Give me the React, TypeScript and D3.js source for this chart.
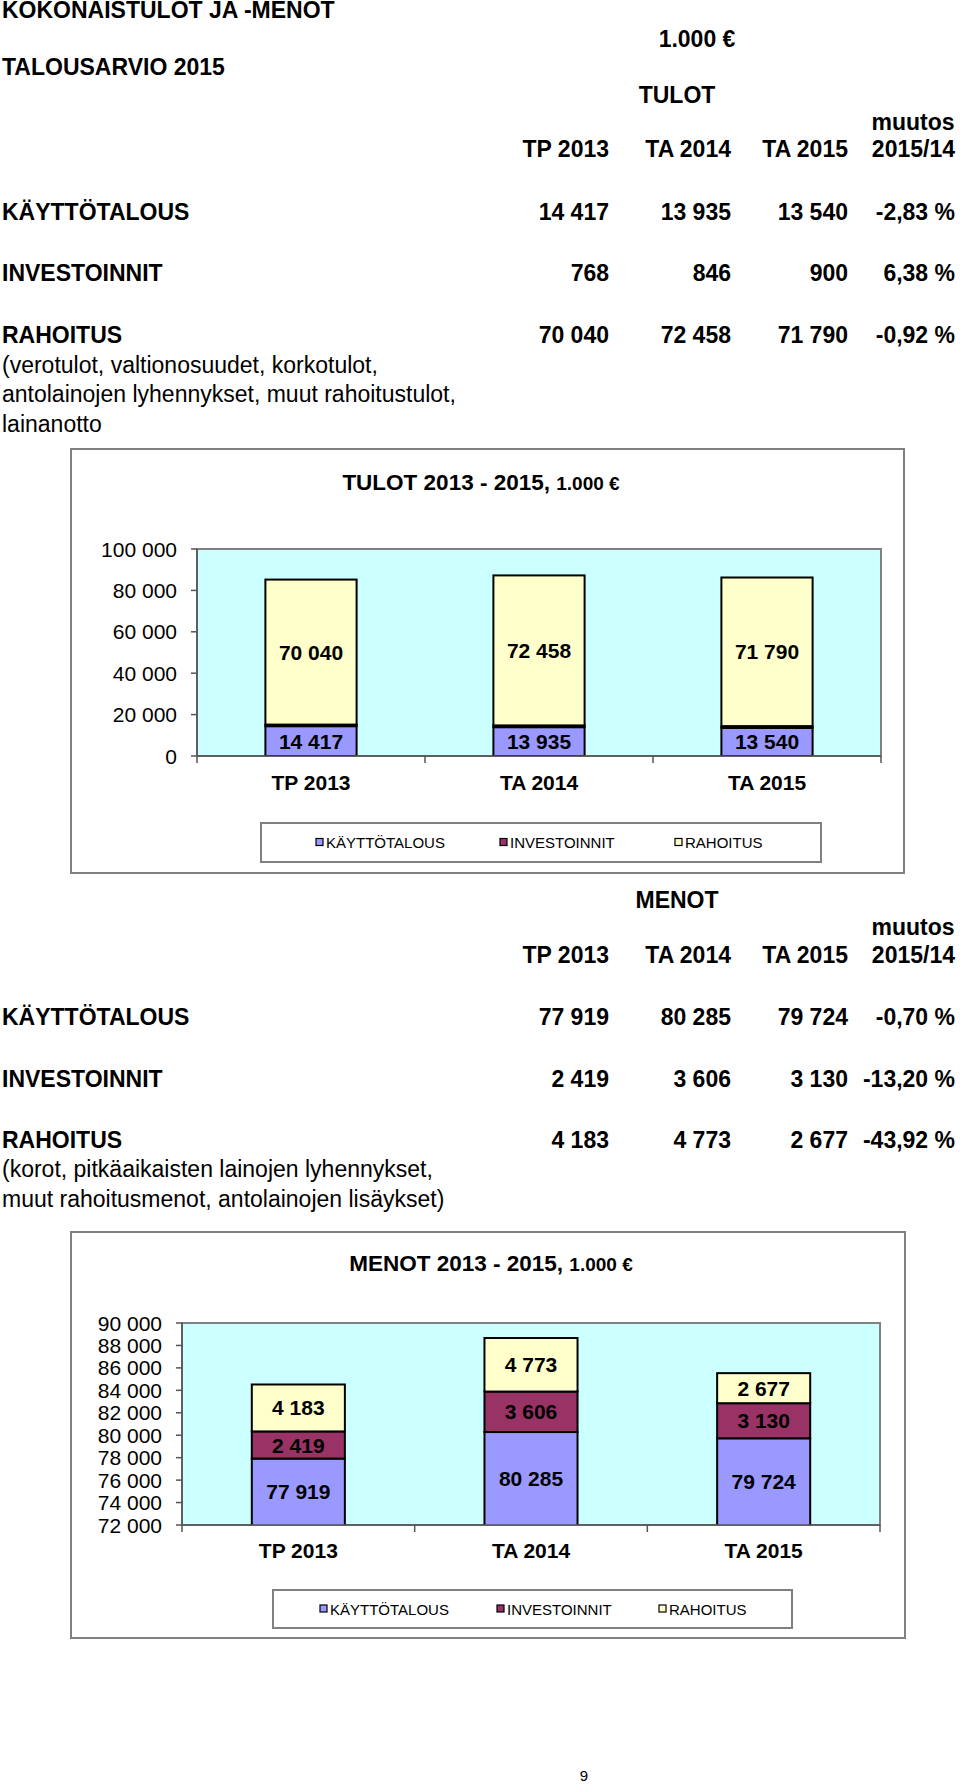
import React from "react";
import * as d3 from "d3";

const categories = ["TP 2013", "TA 2014", "TA 2015"];
const seriesNames = ["KÄYTTÖTALOUS", "INVESTOINNIT", "RAHOITUS"];
const seriesColors = ["#9999FF", "#993366", "#FFFFCC"];

const tuloKaytto = [14417, 13935, 13540];
const tuloInvest = [768, 846, 900];
const tuloRahoitus = [70040, 72458, 71790];
const tuloMuutos = ["-2,83 %", "6,38 %", "-0,92 %"];

const menoKaytto = [77919, 80285, 79724];
const menoInvest = [2419, 3606, 3130];
const menoRahoitus = [4183, 4773, 2677];
const menoMuutos = ["-0,70 %", "-13,20 %", "-43,92 %"];

const tuloTicks = [0, 20000, 40000, 60000, 80000, 100000];
const menoTicks = [72000, 74000, 76000, 78000, 80000, 82000, 84000, 86000, 88000, 90000];

const tuloDesc = [
  "(verotulot, valtionosuudet, korkotulot,",
  "antolainojen lyhennykset, muut rahoitustulot,",
  "lainanotto",
];
const menoDesc = [
  "(korot, pitkäaikaisten lainojen lyhennykset,",
  "muut rahoitusmenot, antolainojen lisäykset)",
];

const FONT = "'Liberation Sans', Arial, Helvetica, sans-serif";
const fi = d3.formatLocale({ decimal: ",", thousands: " ", grouping: [3], currency: ["", " €"] });
const fmt = fi.format(",d");

type TableProps = {
  heading: string;
  y: { heading: number; muutos: number; header: number; rows: number[]; desc: number[] };
  rows: number[][];
  muutos: string[];
  desc: string[];
};

const colRight = [609, 731, 848, 955];

function Table({ heading, y, rows, muutos, desc }: TableProps) {
  return (
    <g fontFamily={FONT} fontSize={23} fill="#000">
      <text x={677} y={y.heading} textAnchor="middle" fontWeight="bold">{heading}</text>
      <text x={913} y={y.muutos} textAnchor="middle" fontWeight="bold">muutos</text>
      {categories.map((c, i) => (
        <text key={c} x={colRight[i]} y={y.header} textAnchor="end" fontWeight="bold">{c}</text>
      ))}
      <text x={colRight[3]} y={y.header} textAnchor="end" fontWeight="bold">2015/14</text>
      {seriesNames.map((s, r) => (
        <g key={s} fontWeight="bold">
          <text x={2} y={y.rows[r]}>{s}</text>
          {rows[r].map((v, i) => (
            <text key={i} x={colRight[i]} y={y.rows[r]} textAnchor="end">{fmt(v)}</text>
          ))}
          <text x={colRight[3]} y={y.rows[r]} textAnchor="end">{muutos[r]}</text>
        </g>
      ))}
      {desc.map((d, i) => (
        <text key={i} x={2} y={y.desc[i]}>{d}</text>
      ))}
    </g>
  );
}

type ChartProps = {
  id: string;
  box: [number, number, number, number];
  plot: [number, number, number, number];
  title: string;
  titleY: number;
  titleX: number;
  domain: [number, number];
  ticks: number[];
  series: number[][];
  labelSeries: boolean[];
  catY: number;
  legendBox: [number, number, number, number];
  legendX: number[];
};

function Chart(p: ChartProps) {
  const [px0, py0, px1, py1] = p.plot;
  const x = d3.scaleBand<string>().domain(categories).range([px0, px1]);
  const y = d3.scaleLinear().domain(p.domain).range([py1, py0]);
  const stack = d3.stack<number>().keys(["0", "1", "2"]).value((i, k) => p.series[+k][i]);
  const stacked = stack([0, 1, 2]);
  const bw = x.bandwidth() * 0.4;
  const bandEdges = [px0, ...categories.map((c) => (x(c) as number) + x.bandwidth())];
  const [bx0, by0, bx1, by1] = p.box;
  const [lx0, ly0, lx1, ly1] = p.legendBox;
  const legendMid = (ly0 + ly1) / 2;
  return (
    <g fontFamily={FONT}>
      <rect x={bx0} y={by0} width={bx1 - bx0} height={by1 - by0} fill="#fff" stroke="#808080" strokeWidth={2} />
      <text x={p.titleX} y={p.titleY} textAnchor="middle" fontWeight="bold" fontSize={22.5}>
        {p.title}
        <tspan fontSize={19}>1.000 €</tspan>
      </text>
      <defs>
        <clipPath id={p.id}>
          <rect x={px0} y={py0} width={px1 - px0} height={py1 - py0} />
        </clipPath>
      </defs>
      <rect x={px0} y={py0} width={px1 - px0} height={py1 - py0} fill="#CCFFFF" stroke="#808080" strokeWidth={2} />
      <g clipPath={`url(#${p.id})`}>
        {stacked.map((layer, si) =>
          layer.map((d, ci) => {
            const cx = (x(categories[ci]) as number) + (x.bandwidth() - bw) / 2;
            return (
              <rect
                key={`${si}-${ci}`}
                x={cx}
                y={y(d[1])}
                width={bw}
                height={y(d[0]) - y(d[1])}
                fill={seriesColors[si]}
                stroke="#000"
                strokeWidth={2}
              />
            );
          })
        )}
      </g>
      {stacked.map((layer, si) =>
        p.labelSeries[si]
          ? layer.map((d, ci) => {
              const lo = Math.max(d[0], p.domain[0]);
              const mid = (lo + d[1]) / 2;
              const cx = (x(categories[ci]) as number) + x.bandwidth() / 2;
              return (
                <text key={`l${si}-${ci}`} x={cx} y={y(mid) + 7.5} textAnchor="middle" fontWeight="bold" fontSize={21}>
                  {fmt(p.series[si][ci])}
                </text>
              );
            })
          : null
      )}
      <line x1={px0} x2={px0} y1={py0} y2={py1} stroke="#555" strokeWidth={1.5} />
      <line x1={px0} x2={px1} y1={py1} y2={py1} stroke="#555" strokeWidth={1.5} />
      {p.ticks.map((t) => (
        <g key={t}>
          <line x1={px0 - 6} x2={px0} y1={y(t)} y2={y(t)} stroke="#555" strokeWidth={1.5} />
          <text x={px0 - 20} y={y(t) + 7.5} textAnchor="end" fontSize={21}>{fmt(t)}</text>
        </g>
      ))}
      {bandEdges.map((e, i) => (
        <line key={i} x1={e} x2={e} y1={py1} y2={py1 + 7} stroke="#555" strokeWidth={1.5} />
      ))}
      {categories.map((c) => (
        <text key={c} x={(x(c) as number) + x.bandwidth() / 2} y={p.catY} textAnchor="middle" fontWeight="bold" fontSize={21}>
          {c}
        </text>
      ))}
      <rect x={lx0} y={ly0} width={lx1 - lx0} height={ly1 - ly0} fill="#fff" stroke="#808080" strokeWidth={2} />
      {seriesNames.map((s, i) => (
        <g key={s}>
          <rect x={p.legendX[i]} y={legendMid - 4} width={7} height={7} fill={seriesColors[i]} stroke="#000" strokeWidth={1.2} />
          <text x={p.legendX[i] + 10} y={legendMid + 5.5} fontSize={15}>{s}</text>
        </g>
      ))}
    </g>
  );
}

export default function App() {
  return (
    <div style={{ position: "absolute", left: 0, top: 0 }}>
      <svg width={960} height={1786} style={{ display: "block", background: "#fff" }}>
        <g fontFamily={FONT} fontWeight="bold" fontSize={23}>
          <text x={2} y={18}>KOKONAISTULOT JA -MENOT</text>
          <text x={697} y={47} textAnchor="middle">1.000 €</text>
          <text x={2} y={75}>TALOUSARVIO 2015</text>
        </g>
        <Table
          heading="TULOT"
          y={{ heading: 103, muutos: 130, header: 157, rows: [220, 281, 343], desc: [373, 402, 432] }}
          rows={[tuloKaytto, tuloInvest, tuloRahoitus]}
          muutos={tuloMuutos}
          desc={tuloDesc}
        />
        <Chart
          id="c1"
          box={[71, 449, 904, 873]}
          plot={[197, 549, 881, 756]}
          title="TULOT 2013 - 2015, "
          titleX={481}
          titleY={490}
          domain={[0, 100000]}
          ticks={tuloTicks}
          series={[tuloKaytto, tuloInvest, tuloRahoitus]}
          labelSeries={[true, false, true]}
          catY={790}
          legendBox={[261, 823, 821, 862]}
          legendX={[316, 500, 675]}
        />
        <Table
          heading="MENOT"
          y={{ heading: 908, muutos: 935, header: 963, rows: [1025, 1087, 1148], desc: [1177, 1207] }}
          rows={[menoKaytto, menoInvest, menoRahoitus]}
          muutos={menoMuutos}
          desc={menoDesc}
        />
        <Chart
          id="c2"
          box={[71, 1232, 905, 1638]}
          plot={[182, 1323, 880, 1525]}
          title="MENOT 2013 - 2015, "
          titleX={491}
          titleY={1271}
          domain={[72000, 90000]}
          ticks={menoTicks}
          series={[menoKaytto, menoInvest, menoRahoitus]}
          labelSeries={[true, true, true]}
          catY={1558}
          legendBox={[273, 1590, 792, 1628]}
          legendX={[320, 497, 659]}
        />
        <text x={584} y={1781} textAnchor="middle" fontFamily={FONT} fontSize={15}>9</text>
      </svg>
    </div>
  );
}
